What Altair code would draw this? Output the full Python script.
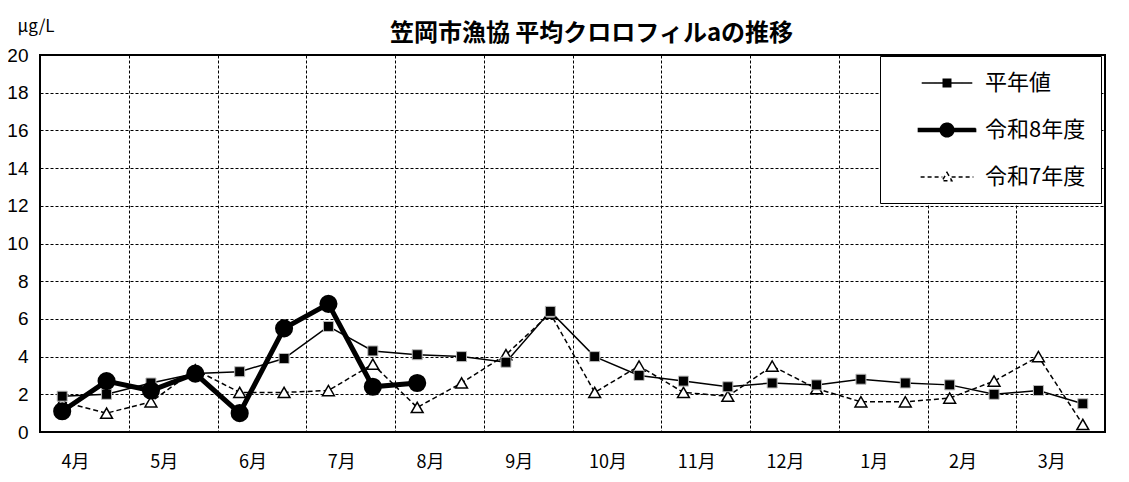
import json
import altair as alt
import pandas as pd

# ---- data ----
months = ["4月", "5月", "6月", "7月", "8月", "9月", "10月", "11月", "12月", "1月", "2月", "3月"]
series_names = ["平年値", "令和8年度", "令和7年度"]

normal = [1.9, 2.0, 2.6, 3.1, 3.2, 3.9, 5.6, 4.3, 4.1, 4.0, 3.7, 6.4,
          4.0, 3.0, 2.7, 2.4, 2.6, 2.5, 2.8, 2.6, 2.5, 2.0, 2.2, 1.5]
r8 = [1.1, 2.7, 2.2, 3.1, 1.0, 5.5, 6.8, 2.4, 2.6]
r7 = [1.6, 1.0, 1.6, 3.3, 2.1, 2.1, 2.2, 3.6, 1.3, 2.6, 4.1, 6.3,
      2.1, 3.5, 2.1, 1.9, 3.5, 2.3, 1.6, 1.6, 1.8, 2.7, 4.0, 0.4]


def frame(vals, name):
    # two observations per month (first half / second half)
    return pd.DataFrame({"x": [i * 0.5 + 0.25 for i in range(len(vals))],
                         "value": vals, "series": name})


df_normal = frame(normal, series_names[0])
df_r8 = frame(r8, series_names[1])
df_r7 = frame(r7, series_names[2])

W, H = 1065, 377
CJK = "Noto Sans CJK JP"

x_enc = alt.X(
    "x:Q",
    scale=alt.Scale(domain=[0, 12], nice=False, zero=False),
    axis=alt.Axis(
        values=list(range(13)), title=None, grid=True, gridColor="black",
        gridDash=[3, 2], gridWidth=1, ticks=False, domain=False,
        labelExpr=f"datum.value < 12 ? {json.dumps(months, ensure_ascii=False)}[datum.value] : ''",
        labelOffset=35, labelPadding=21, labelFont=CJK, labelFontSize=18,
        labelColor="black", labelFlush=False, labelOverlap=False,
    ),
)
y_enc = alt.Y(
    "value:Q",
    scale=alt.Scale(domain=[0, 20], nice=False),
    axis=alt.Axis(
        values=list(range(0, 21, 2)), grid=True, gridColor="black",
        gridDash=[3, 2], gridWidth=1, ticks=False, domain=False,
        labelFont="Liberation Sans", labelFontSize=19, labelColor="black",
        labelPadding=12, labelFlush=False,
        title="μg/L", titleAngle=0, titleX=-23, titleY=-29, titleAlign="left",
        titleBaseline="middle", titleFont=CJK, titleFontSize=17,
        titleFontWeight="normal", titleColor="black",
    ),
)

line_r7 = alt.Chart(df_r7).mark_line(color="black", strokeWidth=1.5, strokeDash=[5, 3]).encode(x=x_enc, y=y_enc)
pt_r7 = alt.Chart(df_r7).mark_point(shape="triangle-up", size=140, filled=True, fill="white",
                                    stroke="black", strokeWidth=1.5, opacity=1).encode(x=x_enc, y=y_enc)
line_n = alt.Chart(df_normal).mark_line(color="black", strokeWidth=1.5).encode(x=x_enc, y=y_enc)
pt_n = alt.Chart(df_normal).mark_point(shape="square", size=100, filled=True, fill="black",
                                       stroke="#bbbbbb", strokeWidth=1, opacity=1).encode(x=x_enc, y=y_enc)
line_r8 = alt.Chart(df_r8).mark_line(color="black", strokeWidth=5).encode(x=x_enc, y=y_enc)
pt_r8 = alt.Chart(df_r8).mark_point(shape="circle", size=260, filled=True, fill="black",
                                    stroke="black", opacity=1).encode(x=x_enc, y=y_enc)

# ---- legend (built by Vega-Lite from an empty layer, custom symbols) ----
sym_paths = [
    "M-2.3,0H-0.34M0.34,0H2.3M-0.34,-0.34H0.34V0.34H-0.34Z",
    "M-2.6,-0.14H-0.6V0.14H-2.6ZM0.6,-0.14H2.6V0.14H0.6Z"
    "M-0.62,0A0.62,0.62,0,1,1,0.62,0A0.62,0.62,0,1,1,-0.62,0Z",
    "M-2.4,0H-0.42M0.42,0H2.4M0,-0.42L0.44,0.34H-0.44Z",
]
leg = alt.Legend(
    title=None, orient="none", legendX=840, legendY=1, padding=15,
    fillColor="white", strokeColor="black", symbolSize=484,
    symbolStrokeWidth=1.5, symbolStrokeColor="black",
    labelFont=CJK, labelFontSize=22, labelColor="black", labelLimit=300,
    rowPadding=24, symbolOffset=40, labelOffset=26,
)
legend_df = pd.DataFrame({"series": series_names})
legend_layer = alt.Chart(legend_df).transform_filter("false").mark_point(
    filled=True, opacity=1, strokeWidth=1.5
).encode(
    shape=alt.Shape("series:N", scale=alt.Scale(domain=series_names, range=sym_paths), legend=leg),
    fill=alt.Fill("series:N", scale=alt.Scale(domain=series_names, range=["black", "black", "white"]), legend=leg),
    stroke=alt.Stroke("series:N", scale=alt.Scale(domain=series_names, range=["black", "black", "black"]), legend=leg),
    strokeDash=alt.StrokeDash("series:N", scale=alt.Scale(domain=series_names, range=[[1, 0], [1, 0], [4, 3]]), legend=leg),
)

chart = alt.layer(
    line_r7, pt_r7, line_n, pt_n, line_r8, pt_r8, legend_layer
).properties(
    width=W, height=H,
    title=alt.Title(
        text="笠岡市漁協 平均クロロフィルaの推移", font=CJK, fontSize=24,
        fontWeight="bold", color="black", anchor="middle", frame="group",
        dx=19, offset=-29,
    ),
    autosize=alt.AutoSizeParams(type="none"),
    padding={"left": 32, "top": 47, "right": 16, "bottom": 40},
).configure_view(stroke="black", strokeWidth=2)

chart.save("out.html", embed_options={"renderer": "svg", "actions": False})
